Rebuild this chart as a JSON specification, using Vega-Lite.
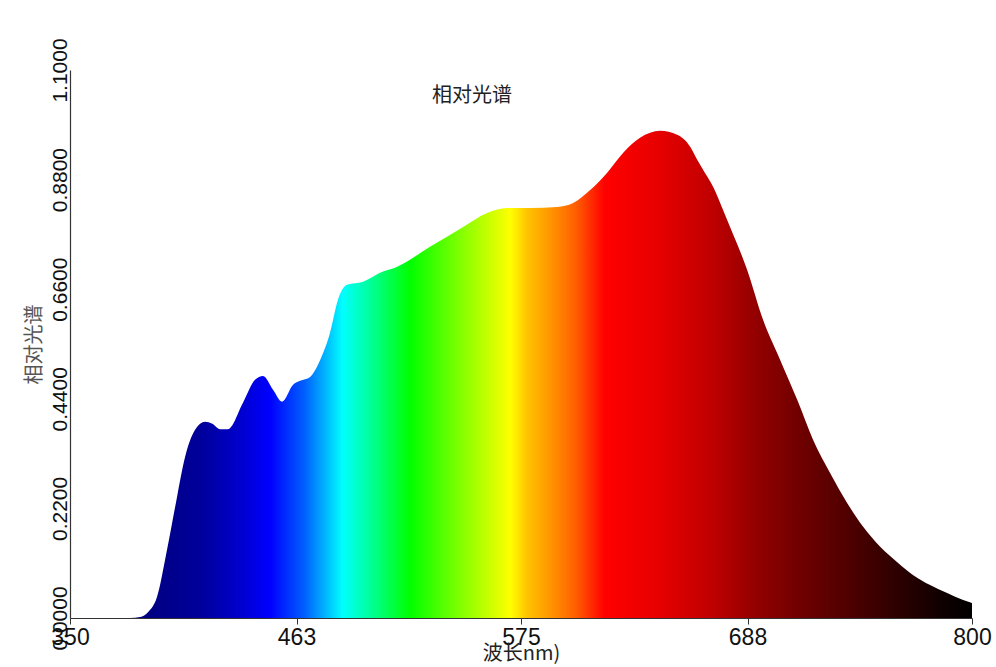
{
  "$schema": "https://vega.github.io/schema/vega-lite/v6.json",
  "width": 902,
  "height": 548,
  "autosize": "none",
  "padding": {"left": 70, "top": 70, "right": 24, "bottom": 49},
  "background": "white",
  "title": {
    "text": "相对光谱",
    "anchor": "middle",
    "dx": -49,
    "dy": 72,
    "font": "Noto Sans CJK SC",
    "fontSize": 20,
    "fontWeight": "normal",
    "color": "#222222"
  },
  "data": {
    "values": [
      {"nm": 350, "v": 0},
      {"nm": 380, "v": 0},
      {"nm": 385, "v": 0.002},
      {"nm": 389, "v": 0.012},
      {"nm": 393.4, "v": 0.042},
      {"nm": 398.4, "v": 0.137},
      {"nm": 403.4, "v": 0.243},
      {"nm": 407.4, "v": 0.323},
      {"nm": 412.4, "v": 0.378},
      {"nm": 417.4, "v": 0.394},
      {"nm": 421, "v": 0.39},
      {"nm": 424.9, "v": 0.379},
      {"nm": 428.8, "v": 0.379},
      {"nm": 436.3, "v": 0.432},
      {"nm": 442.3, "v": 0.478},
      {"nm": 446.3, "v": 0.486},
      {"nm": 451.3, "v": 0.458},
      {"nm": 455.8, "v": 0.434},
      {"nm": 461.3, "v": 0.468},
      {"nm": 464.8, "v": 0.476},
      {"nm": 469.8, "v": 0.484},
      {"nm": 474.8, "v": 0.518},
      {"nm": 479.7, "v": 0.572},
      {"nm": 483.7, "v": 0.639},
      {"nm": 488.2, "v": 0.669},
      {"nm": 496.2, "v": 0.675},
      {"nm": 504.7, "v": 0.693},
      {"nm": 513.2, "v": 0.705},
      {"nm": 529.6, "v": 0.745},
      {"nm": 546.1, "v": 0.785},
      {"nm": 558.1, "v": 0.813},
      {"nm": 568.1, "v": 0.823},
      {"nm": 579.5, "v": 0.823},
      {"nm": 593.0, "v": 0.825},
      {"nm": 601.0, "v": 0.833},
      {"nm": 609.5, "v": 0.859},
      {"nm": 618.0, "v": 0.894},
      {"nm": 626.0, "v": 0.934},
      {"nm": 634.4, "v": 0.964},
      {"nm": 644.4, "v": 0.978},
      {"nm": 652.9, "v": 0.970},
      {"nm": 659.4, "v": 0.946},
      {"nm": 662.9, "v": 0.920},
      {"nm": 667.9, "v": 0.886},
      {"nm": 670.9, "v": 0.865},
      {"nm": 675.8, "v": 0.819},
      {"nm": 679.3, "v": 0.785},
      {"nm": 687.8, "v": 0.699},
      {"nm": 695.8, "v": 0.598},
      {"nm": 704.3, "v": 0.518},
      {"nm": 712.8, "v": 0.438},
      {"nm": 720.8, "v": 0.357},
      {"nm": 729.2, "v": 0.291},
      {"nm": 737.7, "v": 0.231},
      {"nm": 745.7, "v": 0.183},
      {"nm": 754.2, "v": 0.143},
      {"nm": 762.7, "v": 0.112},
      {"nm": 770.7, "v": 0.086},
      {"nm": 779.1, "v": 0.066},
      {"nm": 787.6, "v": 0.050},
      {"nm": 795.6, "v": 0.036},
      {"nm": 800, "v": 0.030}
    ]
  },
  "mark": {
    "type": "area",
    "interpolate": "monotone",
    "color": {
      "gradient": "linear",
      "x1": 0, "y1": 0, "x2": 1, "y2": 0,
      "stops": [
        {"offset": 0, "color": "#000080"},
        {"offset": 0.078, "color": "#000080"},
        {"offset": 0.144, "color": "#00009a"},
        {"offset": 0.188, "color": "#0000cc"},
        {"offset": 0.222, "color": "#0000ff"},
        {"offset": 0.26, "color": "#0060ff"},
        {"offset": 0.286, "color": "#00c0ff"},
        {"offset": 0.302, "color": "#00ffff"},
        {"offset": 0.333, "color": "#00ff99"},
        {"offset": 0.377, "color": "#00ff00"},
        {"offset": 0.432, "color": "#80ff00"},
        {"offset": 0.466, "color": "#ccff00"},
        {"offset": 0.488, "color": "#ffff00"},
        {"offset": 0.508, "color": "#ffc000"},
        {"offset": 0.527, "color": "#ffa000"},
        {"offset": 0.56, "color": "#ff6000"},
        {"offset": 0.593, "color": "#ff0000"},
        {"offset": 0.654, "color": "#e60000"},
        {"offset": 0.71, "color": "#c00000"},
        {"offset": 0.752, "color": "#9a0000"},
        {"offset": 0.809, "color": "#700000"},
        {"offset": 0.887, "color": "#400000"},
        {"offset": 0.965, "color": "#100000"},
        {"offset": 1, "color": "#000000"}
      ]
    }
  },
  "encoding": {
    "x": {
      "field": "nm",
      "type": "quantitative",
      "scale": {"domain": [350, 800], "nice": false, "zero": false},
      "axis": {
        "values": [350, 463, 575, 688, 800],
        "title": "波长nm)",
        "titleFont": "Noto Sans CJK SC",
        "titleFontSize": 20,
        "titleFontWeight": "normal",
        "titleColor": "#222222",
        "titlePadding": -6,
        "labelFont": "Liberation Sans",
        "labelFontSize": 23,
        "labelColor": "#111111",
        "labelPadding": 2,
        "tickSize": 6,
        "tickColor": "#333333",
        "domainColor": "#333333",
        "domainWidth": 1.2,
        "grid": false,
        "labelFlush": false,
        "labelOverlap": false
      }
    },
    "y": {
      "field": "v",
      "type": "quantitative",
      "scale": {"domain": [0, 1.1], "nice": false},
      "axis": {
        "values": [0, 0.22, 0.44, 0.66, 0.88, 1.1],
        "format": ".4f",
        "title": "相对光谱",
        "titleFont": "Noto Sans CJK SC",
        "titleFontSize": 20,
        "titleFontWeight": "normal",
        "titleColor": "#555555",
        "titlePadding": 5,
        "labelFont": "'Liberation Sans Narrow', 'Liberation Sans', Arial, sans-serif",
        "labelFontSize": 21,
        "labelColor": "#111111",
        "labelAngle": 270,
        "labelPadding": 0,
        "tickSize": 0,
        "domainColor": "#333333",
        "domainWidth": 1.2,
        "grid": false,
        "labelFlush": false,
        "labelOverlap": false
      }
    }
  },
  "config": {"view": {"stroke": null}}
}
